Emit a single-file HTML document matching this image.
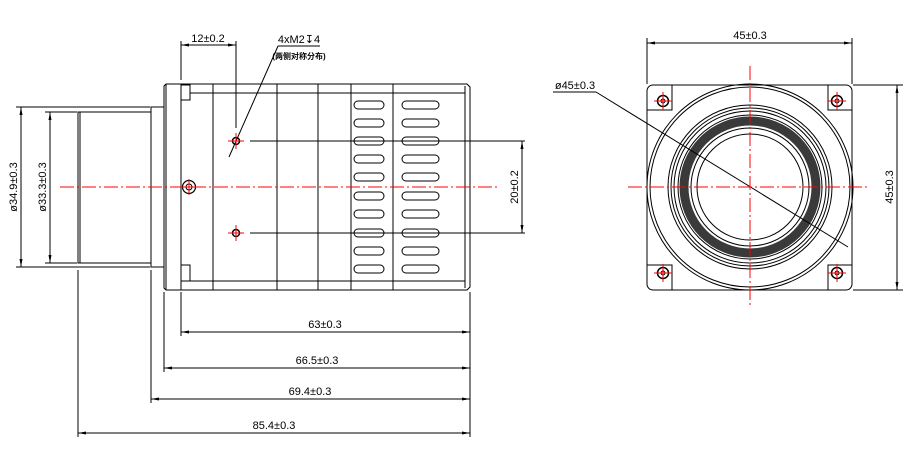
<!DOCTYPE html>
<html><head><meta charset="utf-8"><style>
body{margin:0;background:#fff}
svg{display:block}
text{font-family:"Liberation Sans","Noto Sans CJK SC",sans-serif;fill:#000}
</style></head><body>
<svg width="924" height="450" viewBox="0 0 924 450" xmlns="http://www.w3.org/2000/svg">
<defs>
<marker id="a" markerWidth="8" markerHeight="6" refX="8" refY="3" orient="auto-start-reverse" markerUnits="userSpaceOnUse"><path d="M0,1.5 L8,3 L0,4.5" fill="#000"/></marker>
</defs>
<g stroke="#000" stroke-width="1" fill="none">
<rect x="78" y="112" width="73" height="151"/>
<line x1="80" y1="112" x2="80" y2="263"/>
<rect x="151" y="107" width="13" height="160"/>
<path d="M166,84 L467,84 L470,87 L470,287 L467,290 L166,290 L164,288 L164,86 Z"/>
<line x1="166" y1="84" x2="166" y2="290"/>
<line x1="181" y1="84" x2="181" y2="290"/>
<rect x="181" y="85" width="9" height="15"/>
<rect x="181" y="265" width="9" height="16"/>
<line x1="190" y1="93" x2="465" y2="93"/>
<line x1="190" y1="281" x2="465" y2="281"/>
<line x1="213" y1="84" x2="213" y2="290"/>
<line x1="277" y1="84" x2="277" y2="290"/>
<line x1="318" y1="84" x2="318" y2="290"/>
<line x1="351" y1="84" x2="351" y2="290"/>
<line x1="393" y1="84" x2="393" y2="290"/>
<line x1="465" y1="86" x2="465" y2="288"/>
<g>
<rect x="354" y="101" width="30" height="8" rx="4"/><rect x="402" y="101" width="37" height="8" rx="4"/>
<rect x="354" y="119" width="30" height="8" rx="4"/><rect x="402" y="119" width="37" height="8" rx="4"/>
<rect x="354" y="137" width="30" height="8" rx="4"/><rect x="402" y="137" width="37" height="8" rx="4"/>
<rect x="354" y="155" width="30" height="8" rx="4"/><rect x="402" y="155" width="37" height="8" rx="4"/>
<rect x="354" y="173" width="30" height="8" rx="4"/><rect x="402" y="173" width="37" height="8" rx="4"/>
<rect x="354" y="192" width="30" height="8" rx="4"/><rect x="402" y="192" width="37" height="8" rx="4"/>
<rect x="354" y="210" width="30" height="8" rx="4"/><rect x="402" y="210" width="37" height="8" rx="4"/>
<rect x="354" y="229" width="30" height="8" rx="4"/><rect x="402" y="229" width="37" height="8" rx="4"/>
<rect x="354" y="247" width="30" height="8" rx="4"/><rect x="402" y="247" width="37" height="8" rx="4"/>
<rect x="354" y="265" width="30" height="8" rx="4"/><rect x="402" y="265" width="37" height="8" rx="4"/>
</g>
<circle cx="236" cy="141" r="3.5" stroke-width="1.5"/>
<circle cx="236" cy="233" r="3.5" stroke-width="1.5"/>
<circle cx="189" cy="187" r="6.5" stroke-width="1.2"/>
<circle cx="189" cy="187" r="3"/>
<line x1="16" y1="107" x2="150" y2="107"/>
<line x1="16" y1="267" x2="150" y2="267"/>
<line x1="21" y1="107" x2="21" y2="267" marker-start="url(#a)" marker-end="url(#a)"/>
<line x1="45" y1="112" x2="77" y2="112"/>
<line x1="45" y1="263" x2="77" y2="263"/>
<line x1="50" y1="112" x2="50" y2="263" marker-start="url(#a)" marker-end="url(#a)"/>
<line x1="250" y1="141" x2="525" y2="141"/>
<line x1="250" y1="233" x2="525" y2="233"/>
<line x1="522" y1="141" x2="522" y2="233" marker-start="url(#a)" marker-end="url(#a)"/>
<line x1="181" y1="41" x2="181" y2="80"/>
<line x1="236" y1="41" x2="236" y2="128"/>
<line x1="181" y1="45" x2="236" y2="45" marker-start="url(#a)" marker-end="url(#a)"/>
<line x1="278" y1="46" x2="320" y2="46"/>
<line x1="278" y1="46" x2="229" y2="157"/>
<line x1="470" y1="292" x2="470" y2="437"/>
<line x1="181" y1="292" x2="181" y2="336"/>
<line x1="164" y1="292" x2="164" y2="372"/>
<line x1="151" y1="270" x2="151" y2="403"/>
<line x1="78" y1="270" x2="78" y2="437"/>
<line x1="181" y1="332" x2="470" y2="332" marker-start="url(#a)" marker-end="url(#a)"/>
<line x1="164" y1="368" x2="470" y2="368" marker-start="url(#a)" marker-end="url(#a)"/>
<line x1="151" y1="399" x2="470" y2="399" marker-start="url(#a)" marker-end="url(#a)"/>
<line x1="78" y1="433" x2="470" y2="433" marker-start="url(#a)" marker-end="url(#a)"/>
<rect x="647" y="85" width="205" height="205" rx="6"/>
<path d="M647,110 H672 V85 M828,85 V110 H852 M647,265 H672 V290 M828,290 V265 H852"/>
<circle cx="663" cy="101" r="5.5" stroke-width="1.5"/><circle cx="663" cy="101" r="2"/>
<circle cx="837" cy="101" r="5.5" stroke-width="1.5"/><circle cx="837" cy="101" r="2"/>
<circle cx="663" cy="273" r="5.5" stroke-width="1.5"/><circle cx="663" cy="273" r="2"/>
<circle cx="837" cy="273" r="5.5" stroke-width="1.5"/><circle cx="837" cy="273" r="2"/>
<circle cx="750" cy="187" r="103"/>
<circle cx="750" cy="187" r="100"/>
<circle cx="750" cy="187" r="82"/>
<circle cx="750" cy="187" r="79"/>
<circle cx="750" cy="187" r="76"/>
<circle cx="750" cy="187" r="66" stroke="#3a3a3a" stroke-width="9"/>
<circle cx="750" cy="187" r="72"/>
<circle cx="750" cy="187" r="59"/>
<circle cx="750" cy="187" r="53"/>
<line x1="647" y1="38" x2="647" y2="84"/>
<line x1="852" y1="38" x2="852" y2="84"/>
<line x1="647" y1="43" x2="852" y2="43" marker-start="url(#a)" marker-end="url(#a)"/>
<line x1="853" y1="85" x2="903" y2="85"/>
<line x1="853" y1="290" x2="903" y2="290"/>
<line x1="897" y1="85" x2="897" y2="290" marker-start="url(#a)" marker-end="url(#a)"/>
<line x1="553" y1="92" x2="596" y2="92"/>
<line x1="596" y1="92" x2="848" y2="247"/>
</g>
<g stroke="#f00" stroke-width="1" fill="none" stroke-dasharray="14,3,2,3">
<line x1="60" y1="187" x2="497" y2="187"/>
<line x1="628" y1="187" x2="870" y2="187"/>
<line x1="750" y1="66" x2="750" y2="308"/>
</g>
<g stroke="#f00" stroke-width="1">
<path d="M228,141h16M236,133v16M228,233h16M236,225v16M181,187h16M189,179v16"/>
<path d="M654,101h18M663,92v18M828,101h18M837,92v18M654,273h18M663,264v18M828,273h18M837,264v18"/>
</g>
<g font-size="11">
<text x="208" y="42" text-anchor="middle">12±0.2</text>
<text x="299" y="43" text-anchor="middle">4xM2↧4</text>
<text x="299" y="59" text-anchor="middle" font-size="8" font-weight="bold">(两侧对称分布)</text>
<text x="325" y="328" text-anchor="middle">63±0.3</text>
<text x="317" y="364" text-anchor="middle">66.5±0.3</text>
<text x="310" y="395" text-anchor="middle">69.4±0.3</text>
<text x="274" y="429" text-anchor="middle">85.4±0.3</text>
<text x="750" y="39" text-anchor="middle">45±0.3</text>
<text x="575" y="89" text-anchor="middle">ø45±0.3</text>
<text transform="translate(17,187) rotate(-90)" text-anchor="middle">ø34.9±0.3</text>
<text transform="translate(46,187) rotate(-90)" text-anchor="middle">ø33.3±0.3</text>
<text transform="translate(518,187) rotate(-90)" text-anchor="middle">20±0.2</text>
<text transform="translate(893,187) rotate(-90)" text-anchor="middle">45±0.3</text>
</g>
</svg>
</body></html>
